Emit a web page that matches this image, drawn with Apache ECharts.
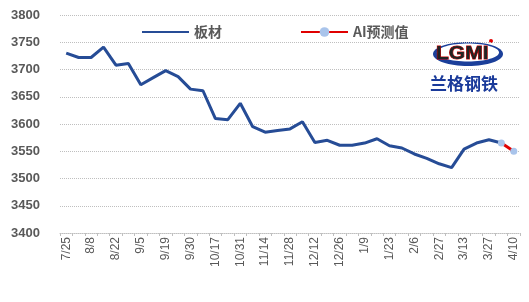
<!DOCTYPE html>
<html><head><meta charset="utf-8">
<script src="https://cdn.jsdelivr.net/npm/echarts@6/dist/echarts.min.js"></script>
<style>html,body{margin:0;padding:0;background:#fff}#c{width:529px;height:302px}</style>
</head><body><div id="c"></div>
<script>
const categories = ['7/25','8/1','8/8','8/15','8/22','8/29','9/5','9/12','9/19','9/26','9/30','10/10','10/17','10/24','10/31','11/7','11/14','11/21','11/28','12/5','12/12','12/19','12/26','1/2','1/9','1/16','1/23','1/30','2/6','2/20','2/27','3/6','3/13','3/20','3/27','4/3','4/10'];
const plateValues = [3730,3722,3722,3741,3708,3711,3672,3685,3698,3687,3664,3661,3610,3608,3638,3595,3585,3588,3591,3604,3566,3570,3561,3561,3565,3573,3560,3556,3545,3537,3527,3520,3554,3565,3571,3565,null];
const aiValues = [null,null,null,null,null,null,null,null,null,null,null,null,null,null,null,null,null,null,null,null,null,null,null,null,null,null,null,null,null,null,null,null,null,null,null,3565,3550];
const seriesNames = ['板材','AI预测值'];
const yTicks = {min:3400, max:3800, interval:50};

const chart = echarts.init(document.getElementById('c'));
const grey = '#595959';
chart.setOption({
  animation:false,
  grid:{left:60,right:9,top:15,bottom:69},
  legend:{
    left:136, top:20, itemWidth:47, itemHeight:12, itemGap:78,
    textStyle:{color:grey,fontSize:14,fontWeight:'bold',fontFamily:'Noto Sans CJK SC'},
    data:[{name:seriesNames[0],itemStyle:{color:'rgba(0,0,0,0)',borderWidth:0}},{name:seriesNames[1]}]
  },
  xAxis:{
    type:'category', data:categories, boundaryGap:true,
    axisLine:{lineStyle:{color:'#bfbfbf',type:'dotted'}},
    axisTick:{show:true,interval:0,length:3,lineStyle:{color:'#bfbfbf'}},
    axisLabel:{interval:1,rotate:90,margin:4,color:grey,fontSize:12,fontFamily:'Liberation Sans Narrow, Liberation Sans'}
  },
  yAxis:{
    type:'value', min:yTicks.min, max:yTicks.max, interval:yTicks.interval,
    axisLine:{show:false}, axisTick:{show:false},
    splitLine:{lineStyle:{color:'#bfbfbf',type:'dotted',width:1}},
    axisLabel:{margin:20,color:grey,fontSize:13,fontWeight:'bold',fontFamily:'Liberation Sans',formatter:v=>String(v)}
  },
  series:[
    {name:seriesNames[0],type:'line',data:plateValues,showSymbol:false,symbol:'none',
     lineStyle:{color:'#264C96',width:3},itemStyle:{color:'#264C96'}},
    {name:seriesNames[1],type:'line',data:aiValues,symbol:'circle',symbolSize:7,showSymbol:true,
     lineStyle:{color:'#E00000',width:3},itemStyle:{color:'#A9C4EB'}, z:3}
  ],
  graphic:[
    {type:'ellipse',shape:{cx:468,cy:54,rx:35,ry:12},style:{fill:'#1B3F9A'}},
    {type:'ellipse',shape:{cx:468,cy:52.5,rx:31,ry:9},style:{fill:'#ffffff'}},
    {type:'text',x:436,y:45,style:{text:'LGMI',fill:'#222',stroke:'#d00000',lineWidth:1,font:'bold 20px Liberation Sans'},scaleX:1.05,scaleY:0.9},
    {type:'circle',shape:{cx:491,cy:41,r:2},style:{fill:'#e00000'}},
    {type:'text',left:430,top:75,style:{text:'兰格钢铁',fill:'#1A3A9A',font:'bold 17px Noto Sans CJK SC',letterSpacing:2}}
  ]
});
</script></body></html>
